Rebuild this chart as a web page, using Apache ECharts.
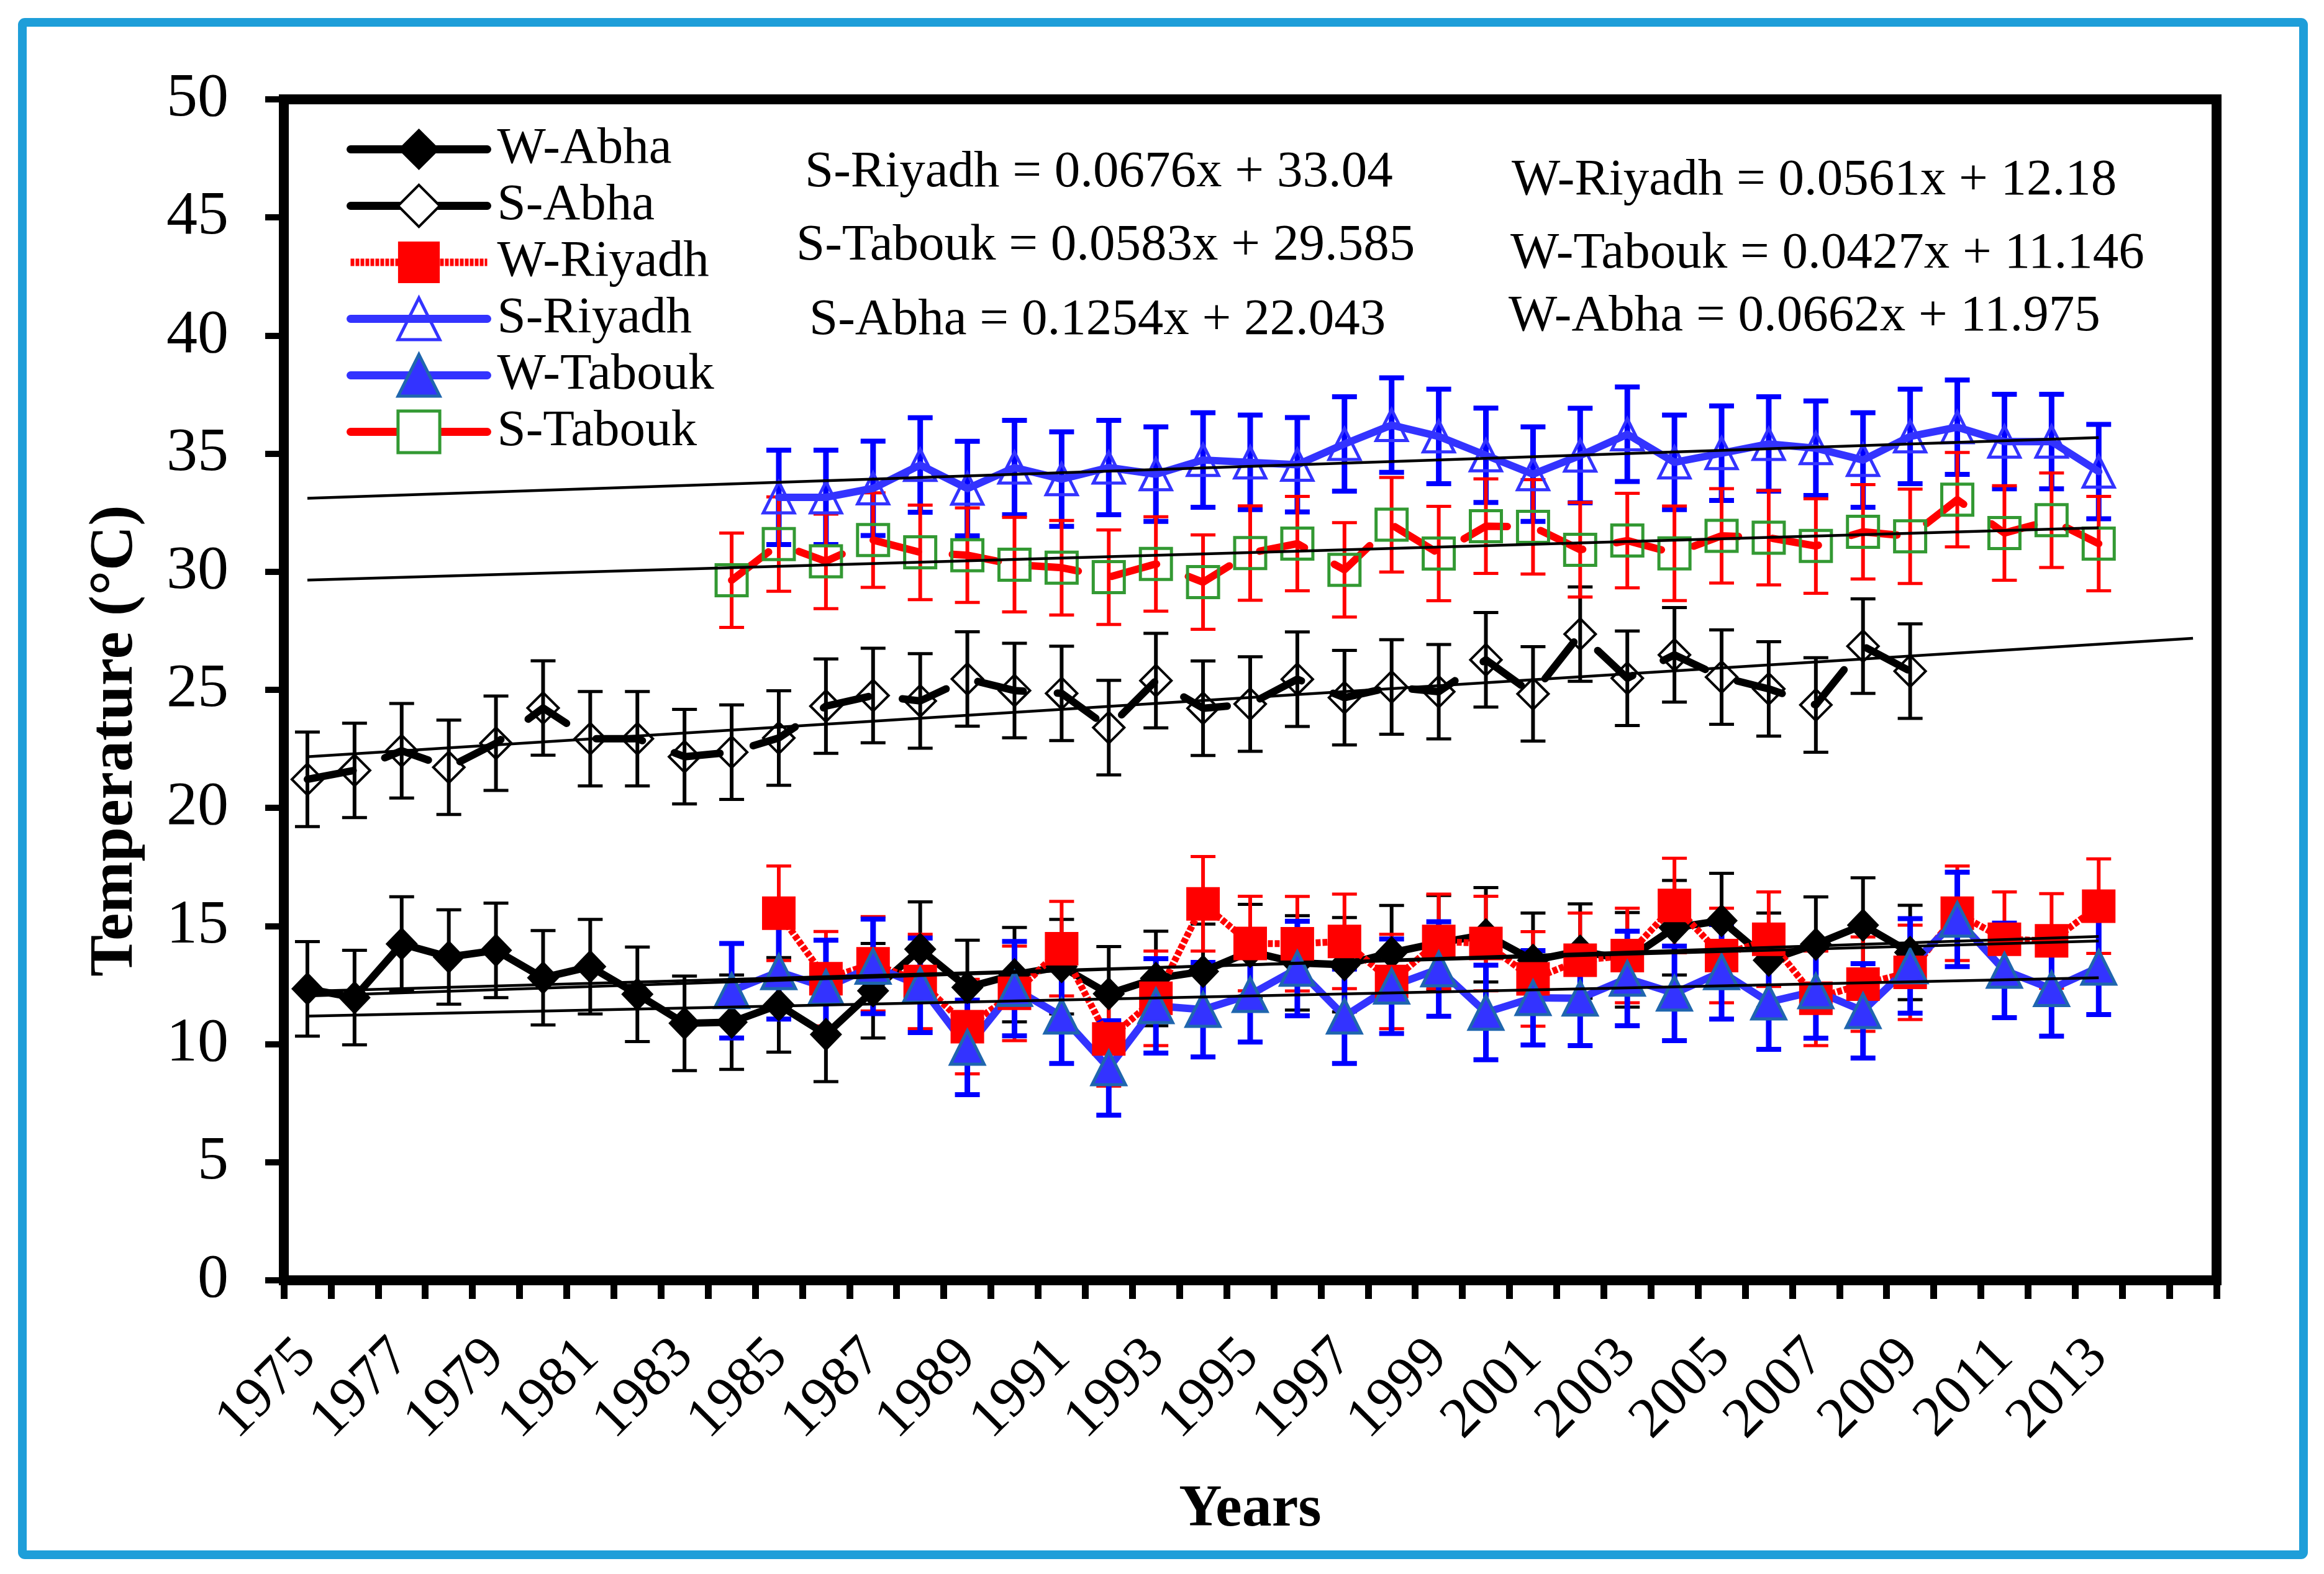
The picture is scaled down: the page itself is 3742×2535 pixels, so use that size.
<!DOCTYPE html>
<html>
<head>
<meta charset="utf-8">
<title>Seasonal temperature trends</title>
<script src="https://cdn.jsdelivr.net/npm/echarts@6/dist/echarts.min.js"></script>
<style>
  html, body { margin: 0; padding: 0; background: #ffffff; }
  #chart { width: 3742px; height: 2535px; }
</style>
</head>
<body>
<div id="chart"></div>
<script>
// category axis: one slot per year, two empty slots after 2013 (as on the sheet)
var years = ['1975', '1976', '1977', '1978', '1979', '1980', '1981', '1982', '1983', '1984',
  '1985', '1986', '1987', '1988', '1989', '1990', '1991', '1992', '1993', '1994',
  '1995', '1996', '1997', '1998', '1999', '2000', '2001', '2002', '2003', '2004',
  '2005', '2006', '2007', '2008', '2009', '2010', '2011', '2012', '2013'];
var extraSlots = ['', ''];

// mean temperatures (°C), one value per year
var wAbha = [12.34, 11.97, 14.24, 13.69, 13.97, 12.81, 13.28, 12.11, 10.88, 10.93,
  11.66, 10.41, 12.26, 14.02, 12.40, 12.94, 13.28, 12.13, 12.78, 13.08,
  13.92, 13.44, 13.36, 13.87, 14.29, 14.63, 13.55, 13.94, 13.57, 14.93,
  15.23, 13.55, 14.23, 15.04, 13.88, null, null, null, null];
var sAbha = [21.21, 21.59, 22.42, 21.72, 22.74, 24.23, 22.93, 22.93, 22.17, 22.36,
  22.96, 24.31, 24.76, 24.53, 25.46, 24.97, 24.85, 23.40, 25.39, 24.22,
  24.40, 25.45, 24.67, 25.12, 24.92, 26.27, 24.83, 27.36, 25.49, 26.48,
  25.54, 25.04, 24.36, 26.85, 25.79, null, null, null, null];
var wRiyadh = [null, null, null, null, null, null, null, null, null, null,
  15.54, 12.77, 13.40, 12.65, 10.74, 12.15, 14.04, 10.22, 11.94, 15.94,
  14.26, 14.25, 14.35, 12.65, 14.35, 14.26, 12.76, 13.55, 13.75, 15.87,
  13.75, 14.44, 11.94, 12.54, 13.04, 15.54, 14.44, 14.37, 15.84];
var sRiyadh = [null, null, null, null, null, null, null, null, null, null,
  33.15, 33.15, 33.53, 34.52, 33.52, 34.41, 33.92, 34.41, 34.13, 34.73,
  34.63, 34.53, 35.41, 36.21, 35.73, 34.93, 34.13, 34.92, 35.82, 34.63,
  35.02, 35.41, 35.23, 34.73, 35.73, 36.12, 35.51, 35.51, 34.24];
var wTabouk = [null, null, null, null, null, null, null, null, null, 12.26,
  13.06, 12.40, 13.29, 12.49, 9.86, 12.35, 11.18, 8.99, 11.62, 11.46,
  12.09, 13.20, 11.18, 12.45, 13.18, 11.34, 11.96, 11.94, 12.78, 12.15,
  13.06, 11.78, 12.25, 11.41, 13.31, 15.28, 13.12, 12.34, 13.25];
var sTabouk = [null, null, null, null, null, null, null, null, null, 29.64,
  31.17, 30.44, 31.34, 30.82, 30.70, 30.30, 30.17, 29.77, 30.33, 29.56,
  30.79, 31.19, 30.08, 31.99, 30.77, 31.93, 31.90, 30.93, 31.32, 30.78,
  31.52, 31.44, 31.09, 31.69, 31.50, 33.05, 31.64, 32.18, 31.19];

// fixed error bar (± °C)
var errorMargin = 2;

// linear trendlines printed on the chart: y = slope * x + intercept (x = 1 for 1975)
var trendNames = ['S-Riyadh', 'S-Tabouk', 'S-Abha', 'W-Riyadh', 'W-Tabouk', 'W-Abha'];
var trendSlope = [0.0676, 0.0583, 0.1254, 0.0561, 0.0427, 0.0662];
var trendIntercept = [33.04, 29.585, 22.043, 12.18, 11.146, 11.975];
var trendLastX = [39, 39, 41, 39, 39, 39];
var trendLabels = ['S-Riyadh = 0.0676x + 33.04', 'S-Tabouk = 0.0583x + 29.585',
  'S-Abha = 0.1254x + 22.043', 'W-Riyadh = 0.0561x + 12.18',
  'W-Tabouk = 0.0427x + 11.146', 'W-Abha = 0.0662x + 11.975'];

var yTicks = { min: 0, max: 50, step: 5 };

var serif = '"Liberation Serif", "Times New Roman", serif';
var blueLine = '#3333ff';
var blueBar = '#0000ff';
var red = '#ff0000';
var green = '#339933';
var clear = 'rgba(255,255,255,0)';

function errorData(values) {
  var out = [];
  values.forEach(function (v, i) {
    if (v !== null) out.push([i, v - errorMargin, v + errorMargin]);
  });
  return out;
}

function errorSeries(values, color, stemWidth, capWidth) {
  return {
    type: 'custom',
    silent: true,
    data: errorData(values),
    encode: { x: 0, y: [1, 2] },
    renderItem: function (params, api) {
      var x = api.value(0);
      var lo = api.coord([x, api.value(1)]);
      var hi = api.coord([x, api.value(2)]);
      var half = 20;
      var st = { stroke: color, lineWidth: stemWidth };
      var cap = { stroke: color, lineWidth: capWidth };
      return {
        type: 'group',
        children: [
          { type: 'line', shape: { x1: lo[0], y1: lo[1], x2: hi[0], y2: hi[1] }, style: st },
          { type: 'line', shape: { x1: hi[0] - half, y1: hi[1], x2: hi[0] + half, y2: hi[1] }, style: cap },
          { type: 'line', shape: { x1: lo[0] - half, y1: lo[1], x2: lo[0] + half, y2: lo[1] }, style: cap }
        ]
      };
    }
  };
}

function lineSeries(name, values, lineStyle, symbol, symbolSize, itemStyle) {
  return {
    name: name,
    type: 'line',
    data: values,
    showAllSymbol: true,
    symbol: symbol,
    symbolSize: symbolSize,
    lineStyle: lineStyle,
    itemStyle: itemStyle,
    silent: true
  };
}

var series = [
  errorSeries(wAbha, '#000000', 6, 5),
  lineSeries('W-Abha', wAbha, { color: '#000000', width: 12, join: 'round', cap: 'round' },
    'diamond', [52, 54], { color: '#000000' }),
  errorSeries(sAbha, '#000000', 6, 5),
  lineSeries('S-Abha', sAbha, { color: '#000000', width: 12, type: [75, 55], cap: 'round', join: 'round' },
    'diamond', [50, 50], { color: clear, borderColor: '#000000', borderWidth: 4 }),
  errorSeries(wRiyadh, red, 6, 5),
  lineSeries('W-Riyadh', wRiyadh, { color: red, width: 11, type: [8, 3], join: 'round' },
    'rect', [54, 54], { color: red }),
  errorSeries(sRiyadh, blueBar, 9, 8),
  lineSeries('S-Riyadh', sRiyadh, { color: blueLine, width: 12, join: 'round', cap: 'round' },
    'triangle', [50, 50], { color: clear, borderColor: blueLine, borderWidth: 5 }),
  errorSeries(wTabouk, blueBar, 9, 8),
  lineSeries('W-Tabouk', wTabouk, { color: blueLine, width: 12, join: 'round', cap: 'round' },
    'triangle', [54, 54], { color: blueLine, borderColor: '#1f66ae', borderWidth: 5 }),
  errorSeries(sTabouk, red, 6, 5),
  lineSeries('S-Tabouk', sTabouk, { color: red, width: 12, type: [75, 55], cap: 'round', join: 'round' },
    'rect', [50, 50], { color: clear, borderColor: green, borderWidth: 5 })
];

// trendlines on top
trendNames.forEach(function (n, k) {
  var a = trendSlope[k], b = trendIntercept[k];
  series.push({
    name: 'trend ' + n,
    type: 'line',
    z: 5,
    silent: true,
    symbol: 'none',
    data: [[0, a * 1 + b], [trendLastX[k] - 1, a * trendLastX[k] + b]],
    lineStyle: { color: '#000000', width: 4.5 }
  });
});

// legend entries: solid keys as on the original, white inside the open diamond / square
var legendItems = [
  { name: 'W-Abha', lineStyle: { color: '#000000', width: 13, type: 'solid', cap: 'round' },
    itemStyle: { color: '#000000' } },
  { name: 'S-Abha', lineStyle: { color: '#000000', width: 13, type: 'solid', cap: 'round' },
    itemStyle: { color: '#ffffff', borderColor: '#000000', borderWidth: 4 } },
  { name: 'W-Riyadh', lineStyle: { color: red, width: 12, type: [6, 2], cap: 'butt' },
    itemStyle: { color: red } },
  { name: 'S-Riyadh', lineStyle: { color: blueLine, width: 13, type: 'solid', cap: 'round' },
    itemStyle: { color: clear, borderColor: blueLine, borderWidth: 5 } },
  { name: 'W-Tabouk', lineStyle: { color: blueLine, width: 13, type: 'solid', cap: 'round' },
    itemStyle: { color: blueLine, borderColor: '#1f66ae', borderWidth: 5 } },
  { name: 'S-Tabouk', lineStyle: { color: red, width: 13, type: 'solid', cap: 'round' },
    itemStyle: { color: '#ffffff', borderColor: green, borderWidth: 5 } }
];

// equation labels (left edge, vertical centre)
var labelPos = [[1296, 278], [1282, 396], [1303, 516], [2434, 291], [2432, 409], [2429, 510]];
var graphics = [{
  type: 'rect',
  shape: { x: 36, y: 36, width: 3673, height: 2468, r: 4 },
  style: { fill: 'none', stroke: '#1e9ed9', lineWidth: 14 },
  silent: true
}, {
  // y axis title sits a little below the middle of the axis in the original
  type: 'text',
  x: 186,
  y: 1193,
  rotation: Math.PI / 2,
  silent: true,
  style: {
    text: 'Temperature (°C)', fill: '#000000', fontFamily: serif,
    fontSize: 100, fontWeight: 'bold', align: 'center', verticalAlign: 'middle'
  }
}];
trendLabels.forEach(function (t, k) {
  graphics.push({
    type: 'text',
    x: labelPos[k][0],
    y: labelPos[k][1],
    z: 10,
    silent: true,
    style: {
      text: t, fill: '#000000', fontFamily: serif, fontSize: 83,
      align: 'left', verticalAlign: 'middle'
    }
  });
});

var chart = echarts.init(document.getElementById('chart'));
chart.setOption({
  animation: false,
  backgroundColor: '#ffffff',
  grid: {
    left: 457, right: 173, top: 160, bottom: 473,
    show: true, borderColor: '#000000', borderWidth: 16,
    containLabel: false, outerBoundsMode: 'none'
  },
  legend: {
    orient: 'vertical',
    left: 553,
    top: 194,
    itemWidth: 220,
    itemHeight: 84,
    itemGap: 8,
    selectedMode: false,
    data: legendItems,
    textStyle: {
      fontFamily: serif, fontSize: 83, lineHeight: 70, color: '#000000',
      padding: [0, 0, 0, 11]
    }
  },
  xAxis: {
    type: 'category',
    data: years.concat(extraSlots),
    boundaryGap: true,
    name: 'Years',
    nameLocation: 'middle',
    nameGap: 322,
    nameTextStyle: { fontFamily: serif, fontSize: 96, fontWeight: 'bold', color: '#000000' },
    axisLine: { show: true, lineStyle: { color: '#000000', width: 16 } },
    axisTick: { show: true, interval: 0, length: 30, lineStyle: { color: '#000000', width: 11 } },
    axisLabel: {
      interval: 1, rotate: 45, margin: 110,
      fontFamily: serif, fontSize: 92, color: '#000000'
    },
    splitLine: { show: false }
  },
  yAxis: {
    type: 'value',
    min: yTicks.min,
    max: yTicks.max,
    interval: yTicks.step,
    axisLine: { show: true, lineStyle: { color: '#000000', width: 16 } },
    axisTick: { show: true, length: 30, lineStyle: { color: '#000000', width: 10 } },
    axisLabel: { margin: 89, fontFamily: serif, fontSize: 100, color: '#000000' },
    splitLine: { show: false }
  },
  graphic: graphics,
  series: series
});
</script>
</body>
</html>
